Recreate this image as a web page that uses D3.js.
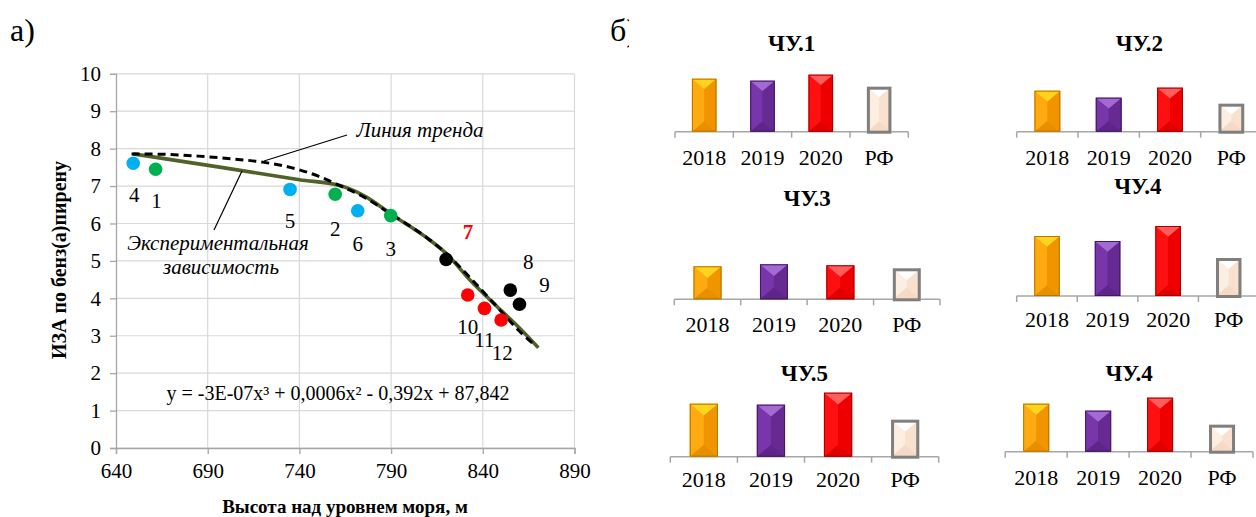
<!DOCTYPE html>
<html>
<head>
<meta charset="utf-8">
<script src="https://cdn.jsdelivr.net/npm/d3@7"></script>
</head>
<body style="margin:0; font-family: 'Times New Roman';">
<svg id="fig" width="1256" height="517"></svg>
<script>
// ---------- a) ИЗА vs altitude ----------
const xTicks = [640, 690, 740, 790, 840, 890];
const yTicks = [0, 1, 2, 3, 4, 5, 6, 7, 8, 9, 10];

// sampling sites: number, altitude (m), IZA by benzo(a)pyrene, group
const siteNo    = [4, 1, 5, 2, 6, 3, 7, 10, 11, 12, 8, 9];
const siteAlt   = [649.4, 661.6, 734.9, 759.5, 771.8, 789.8, 820, 831.8, 840.9, 850, 855, 860];
const siteIza   = [7.61, 7.45, 6.91, 6.78, 6.34, 6.21, 5.04, 4.09, 3.73, 3.42, 4.22, 3.84];
const siteGroup = ["b", "g", "b", "g", "b", "g", "k", "r", "r", "r", "k", "k"];

// experimental dependence
const expAlt = [649.4, 700, 740, 763, 770, 777, 790, 800, 811, 820, 833, 848, 858.5, 870.3];
const expIza = [7.86, 7.48, 7.17, 7.0, 6.87, 6.69, 6.25, 5.93, 5.56, 5.2, 4.49, 3.77, 3.28, 2.68];

// polynomial trend line
const trendAlt = [648.5, 665, 685, 705, 720, 735, 750, 763, 775, 790, 805, 820, 835, 850, 860, 869];
const trendIza = [7.86, 7.85, 7.8, 7.72, 7.64, 7.5, 7.27, 6.99, 6.71, 6.25, 5.78, 5.2, 4.45, 3.65, 3.12, 2.72];

const equation = "y = -3E-07x³ + 0,0006x² - 0,392x + 87,842";

// ---------- б) bar panels ----------
const years = ["2018", "2019", "2020", "РФ"];
const panelTitles = ["ЧУ.1", "ЧУ.2", "ЧУ.3", "ЧУ.4", "ЧУ.5", "ЧУ.4"];
const chu1  = [5.3, 5.1, 5.7, 4.5];
const chu2  = [4.1, 3.4, 4.4, 2.8];
const chu3  = [3.3, 3.5, 3.4, 3.1];
const chu4  = [6.0, 5.5, 7.0, 3.8];
const chu5  = [5.3, 5.2, 6.4, 3.7];
const chu4b = [4.8, 4.1, 5.4, 2.7];
const panelValues = [chu1, chu2, chu3, chu4, chu5, chu4b];

// ---------- drawing ----------
const FACE = '"Times New Roman"';
const svg = d3.select("#fig");
svg.append("rect").attr("width", 1256).attr("height", 517).attr("fill", "#fff");

// text helper: serif face, centred on the given point
function label(parent, px, py, str, size) {
  return parent.append("text").attr("x", px).attr("y", py)
    .attr("font-size", size).attr("text-anchor", "middle").attr("dominant-baseline", "central")
    .style("font-family", FACE).text(str);
}

const groupColor = { b: "#00b0f0", g: "#00b050", k: "#000000", r: "#ff0000" };

const plot = { left: 116, right: 574.5, top: 73.8, bottom: 448 };
const x = d3.scaleLinear().domain([640, 890]).range([plot.left, plot.right]);
const y = d3.scaleLinear().domain([0, 10]).range([plot.bottom, plot.top]);

svg.append("text").attr("x", 10).attr("y", 41).attr("font-size", 32)
  .style("font-family", FACE).text("а)");

const gA = svg.append("g");

// grid
gA.append("g").selectAll("line").data(yTicks).join("line")
  .attr("x1", plot.left).attr("x2", plot.right)
  .attr("y1", d => y(d)).attr("y2", d => y(d))
  .attr("stroke", "#d9d9d9").attr("stroke-width", 1.2);
gA.append("g").selectAll("line").data(xTicks.slice(1)).join("line")
  .attr("x1", d => x(d)).attr("x2", d => x(d))
  .attr("y1", plot.top).attr("y2", plot.bottom)
  .attr("stroke", "#d9d9d9").attr("stroke-width", 1.2);

// axes
const xAxis = d3.axisBottom(x).tickValues(xTicks).tickSize(6).tickPadding(9).tickFormat(d3.format("d"));
const yAxis = d3.axisLeft(y).tickValues(yTicks).tickSize(6).tickPadding(9).tickFormat(d3.format("d"));
const gx = gA.append("g").attr("transform", `translate(0,${plot.bottom})`).call(xAxis);
const gy = gA.append("g").attr("transform", `translate(${plot.left},0)`).call(yAxis);
[gx, gy].forEach(g => {
  g.attr("font-size", 21).attr("font-family", "Times New Roman");
  g.select(".domain").attr("stroke", "#a6a6a6").attr("stroke-width", 1.3);
  g.selectAll(".tick line").attr("stroke", "#a6a6a6").attr("stroke-width", 1.3);
  g.selectAll(".tick text").attr("fill", "#000").style("font-family", FACE);
});

// trend (dashed) and experimental (solid) lines
const line = d3.line().x(d => x(d[0])).y(d => y(d[1])).curve(d3.curveMonotoneX);
gA.append("path").datum(expAlt.map((a, i) => [a, expIza[i]]))
  .attr("d", line).attr("fill", "none")
  .attr("stroke", "#4f6228").attr("stroke-width", 3.6).attr("stroke-linejoin", "round");
gA.append("path").datum(trendAlt.map((a, i) => [a, trendIza[i]]))
  .attr("d", line).attr("fill", "none")
  .attr("stroke", "#000").attr("stroke-width", 3).attr("stroke-dasharray", "8,5");

// sites
gA.append("g").selectAll("circle").data(siteNo).join("circle")
  .attr("cx", (d, i) => x(siteAlt[i])).attr("cy", (d, i) => y(siteIza[i]))
  .attr("r", 6.8).attr("fill", (d, i) => groupColor[siteGroup[i]]);

// site number labels (pixel offsets from each marker)
const labelOffset = {
  4: [1, 32], 1: [1, 32], 5: [0, 32], 2: [0, 35], 6: [0, 33], 3: [0, 33],
  7: [22, -27], 8: [18, -28], 9: [25, -19], 10: [0, 32], 11: [0, 32], 12: [1, 33]
};
const gLab = gA.append("g");
siteNo.forEach((n, i) => {
  label(gLab, x(siteAlt[i]) + labelOffset[n][0], y(siteIza[i]) + labelOffset[n][1], n, 21)
    .attr("font-weight", n === 7 ? "bold" : "normal")
    .attr("fill", n === 7 ? "#ff0000" : "#000");
});

// callouts
gA.append("line").attr("x1", 347).attr("y1", 135).attr("x2", 264).attr("y2", 161)
  .attr("stroke", "#000").attr("stroke-width", 1.2);
label(gA, 420, 130, "Линия тренда", 21).attr("font-style", "italic");
gA.append("line").attr("x1", 214).attr("y1", 230).attr("x2", 242).attr("y2", 171)
  .attr("stroke", "#000").attr("stroke-width", 1.2);
label(gA, 218, 243, "Экспериментальная", 21).attr("font-style", "italic");
label(gA, 221, 267, "зависимость", 21).attr("font-style", "italic");

label(gA, 338, 393, equation, 20);

// axis titles
label(gA, 0, 0, "ИЗА по бенз(а)пирену", 20)
  .attr("transform", "translate(59,260) rotate(-90)").attr("font-weight", "bold");
label(gA, 345, 506, "Высота над уровнем моря, м", 19).attr("font-weight", "bold");

// ---------- б) ----------
svg.append("text").attr("x", 610).attr("y", 41).attr("font-size", 32)
  .style("font-family", FACE).text("б)");
svg.append("rect").attr("x", 629).attr("y", 0).attr("width", 627).attr("height", 517).attr("fill", "#fff");

const panelLayout = [
  { x0: 675,    x1: 908.3, base: 131.7, titleY: 43,    labelY: 157 },
  { x0: 1016.7, x1: 1262,  base: 131.7, titleY: 43,    labelY: 157 },
  { x0: 674.3,  x1: 940,   base: 299.3, titleY: 198,   labelY: 324 },
  { x0: 1016.7, x1: 1259,  base: 296,   titleY: 186.7, labelY: 319.3 },
  { x0: 670.3,  x1: 938.7, base: 456.7, titleY: 373.3, labelY: 479 },
  { x0: 1005.2, x1: 1253,  base: 451.7, titleY: 373.3, labelY: 477.3 }
];

const barStyle = [
  { base: "#ffa200", top: "#ffd41c", bottom: "#e88f00", left: "#ffaa10", right: "#f09500", edge: "#b87400", ew: 1 },
  { base: "#7030a0", top: "#a46ad4", bottom: "#5e2689", left: "#7836aa", right: "#662a92", edge: "#45195f", ew: 1 },
  { base: "#ff0000", top: "#ff5c5c", bottom: "#e00000", left: "#ff1010", right: "#ee0000", edge: "#a80000", ew: 1 },
  { base: "#fde9da", top: "#ffffff", bottom: "#f6dac6", left: "#fdeee2", right: "#f9e1cf", edge: "#7f7f7f", ew: 3 }
];

const hScale = d3.scaleLinear().domain([0, 10]).range([0, 100]);

panelValues.forEach((vals, p) => {
  const L = panelLayout[p];
  const g = svg.append("g");
  const bx = d3.scaleBand().domain(years).range([L.x0, L.x1]).paddingInner(0.58).paddingOuter(0.29);
  const step = bx.step();

  label(g, (L.x0 + L.x1) / 2, L.titleY, panelTitles[p], 23).attr("font-weight", "bold");

  // category axis
  g.append("line").attr("x1", L.x0).attr("x2", L.x1).attr("y1", L.base).attr("y2", L.base)
    .attr("stroke", "#a6a6a6").attr("stroke-width", 1.5);
  g.selectAll(".tk").data(d3.range(years.length + 1)).join("line")
    .attr("x1", i => L.x0 + i * step).attr("x2", i => L.x0 + i * step)
    .attr("y1", L.base).attr("y2", L.base + 6)
    .attr("stroke", "#a6a6a6").attr("stroke-width", 1.5);
  years.forEach(yr => label(g, bx(yr) + bx.bandwidth() / 2, L.labelY, yr, 22));

  // bevelled bars
  years.forEach((yr, i) => {
    const s = barStyle[i];
    const x0 = bx(yr), w = bx.bandwidth(), x1 = x0 + w, xc = x0 + w / 2;
    const y1 = L.base, y0 = L.base - hScale(vals[i]);
    const bev = Math.min(w * 0.42, (y1 - y0) / 2);
    const bar = g.append("g");
    bar.append("rect").attr("x", x0).attr("y", y0).attr("width", w).attr("height", y1 - y0).attr("fill", s.base);
    bar.append("polygon").attr("points", [[x0, y0], [xc, y0 + bev], [xc, y1 - bev], [x0, y1]].join(" ")).attr("fill", s.left);
    bar.append("polygon").attr("points", [[x1, y0], [xc, y0 + bev], [xc, y1 - bev], [x1, y1]].join(" ")).attr("fill", s.right);
    bar.append("polygon").attr("points", [[x0, y0], [x1, y0], [xc, y0 + bev]].join(" ")).attr("fill", s.top);
    bar.append("polygon").attr("points", [[x0, y1], [x1, y1], [xc, y1 - bev]].join(" ")).attr("fill", s.bottom);
    const inset = s.ew / 2;
    bar.append("rect").attr("x", x0 + inset).attr("y", y0 + inset)
      .attr("width", w - 2 * inset).attr("height", y1 - y0 - 2 * inset + (s.ew > 1 ? 2 : 0))
      .attr("fill", "none").attr("stroke", s.edge).attr("stroke-width", s.ew);
  });
});
</script>
</body>
</html>
